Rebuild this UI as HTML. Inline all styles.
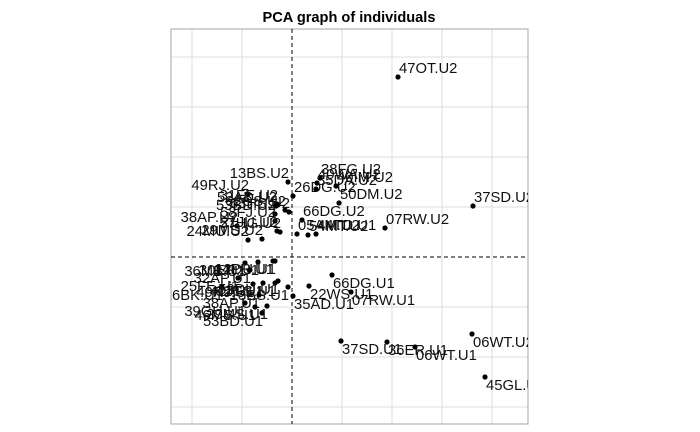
<!DOCTYPE html>
<html><head><meta charset="utf-8"><title>PCA graph of individuals</title>
<style>html,body{margin:0;padding:0;background:#fff}svg{display:block}</style></head>
<body>
<svg id="chart" width="700" height="432" xmlns="http://www.w3.org/2000/svg">
<text x="349" y="22" text-anchor="middle" font-family="Liberation Sans, sans-serif" font-weight="bold" font-size="14.6">PCA graph of individuals</text>
</svg>
<script>
const names = ["47OT.U2","37SD.U2","07RW.U2","13BS.U2","26DG.U2","40WA.U2","38FG.U2","35DA.U2","40IM.U2","50DM.U2","66DG.U2","05AM.U2","54MT.U2","44TD.U1",
"49RJ.U2","31FE.U2","62GS.U2","63HS.U2","52AD.U2","53BD.U2","58FJ.U2","38AP.U2","29MS.U2","21JU.U2","57HG.U2","24MU.U2",
"36MB.U1","30ER.U1","14PR.U1","12DU.U1","32AP.U1","25FE.U1","16BK.U1","49RJ.U1","41JT.U1","62GS.U1","52DU.U1","13BS.U1","38AP.U1","39GH.U1","46MS.U1","29MS.U1","53BD.U1",
"35AD.U1","22WS.U1","66DG.U1","07RW.U1","37SD.U1","36ER.U1","06WT.U1","06WT.U2","45GL.U1"];
const dim1 = [2.12,3.62,1.86,-0.08,0.02,0.50,0.56,0.48,0.88,0.94,0.20,0.10,0.32,0.48,
-0.88,-0.30,-0.14,-0.06,-0.32,-0.34,-0.34,-1.10,-0.60,-0.30,-0.24,-0.88,
-0.94,-0.68,-0.38,-0.34,-0.84,-1.08,-1.40,-0.78,-0.58,-0.34,-0.28,-0.08,-0.66,-0.94,-0.74,-0.50,-0.60,
0.02,0.34,0.80,1.18,0.98,1.90,2.46,3.60,3.86];
const dim2 = [3.60,1.02,0.58,1.50,1.22,1.48,1.58,1.36,1.42,1.08,0.74,0.46,0.44,0.46,
1.26,1.06,0.94,0.90,1.02,0.86,0.72,0.62,0.36,0.52,0.50,0.34,
-0.12,-0.10,-0.08,-0.08,-0.26,-0.42,-0.60,-0.54,-0.52,-0.52,-0.48,-0.60,-0.76,-0.92,-1.00,-0.98,-1.12,
-0.78,-0.58,-0.36,-0.70,-1.68,-1.70,-1.80,-1.54,-2.40];
const xTicks = [-2,-1,0,1,2,3,4];
const yTicks = [-3,-2,-1,0,1,2,3,4];

const NS = "http://www.w3.org/2000/svg";
const svg = document.getElementById("chart");
const L = 171, R = 528, T = 29, B = 424;
const xMin = -2.42, xMax = 4.72, yMin = -3.34, yMax = 4.56;
const sx = v => L + (v - xMin) / (xMax - xMin) * (R - L);
const sy = v => B - (v - yMin) / (yMax - yMin) * (B - T);
function mk(tag, attrs, parent) {
  const e = document.createElementNS(NS, tag);
  for (const k in attrs) e.setAttribute(k, attrs[k]);
  (parent || svg).appendChild(e);
  return e;
}
const defs = mk("defs", {});
const cp = mk("clipPath", {id: "plotclip"}, defs);
mk("rect", {x: L, y: T, width: R - L, height: B - T}, cp);

const grid = mk("g", {});


xTicks.forEach(t => {
  if (t === 0) return;
  const l = mk("line", {x1: sx(t), x2: sx(t), y1: T, y2: B, stroke: "#dcdcdc", "stroke-width": 1}, grid);
  
  
});
yTicks.forEach(t => {
  if (t === 0) return;
  const l = mk("line", {x1: L, x2: R, y1: sy(t), y2: sy(t), stroke: "#dcdcdc", "stroke-width": 1}, grid);
  
  
});
const frame = mk("rect", {x: L, y: T, width: R - L, height: B - T, fill: "none", stroke: "#b3b3b3", "stroke-width": 1.2});


const vz = mk("line", {x1: sx(0), x2: sx(0), y1: T, y2: B, stroke: "#000", "stroke-dasharray": "4,3", "stroke-width": 1});


const hz = mk("line", {x1: L, x2: R, y1: sy(0), y2: sy(0), stroke: "#000", "stroke-dasharray": "4,3", "stroke-width": 1});



const pts = mk("g", {"clip-path": "url(#plotclip)"});


names.forEach((n, i) => {
  const px = sx(dim1[i]), py = sy(dim2[i]);
  const c = mk("circle", {cx: px, cy: py, r: 2.6, fill: "#000"}, pts);
  
  
  const left = dim1[i] < 0;
  const t = mk("text", {
    x: px + 1,
    y: dim2[i] >= 0 ? py - 4 : py + 13,
    "text-anchor": left ? "end" : "start",
    "font-family": "Liberation Sans, sans-serif",
    "font-size": 14.8, fill: "#111"
  }, pts);
  t.textContent = n;
  
  
});
</script>
</body></html>
